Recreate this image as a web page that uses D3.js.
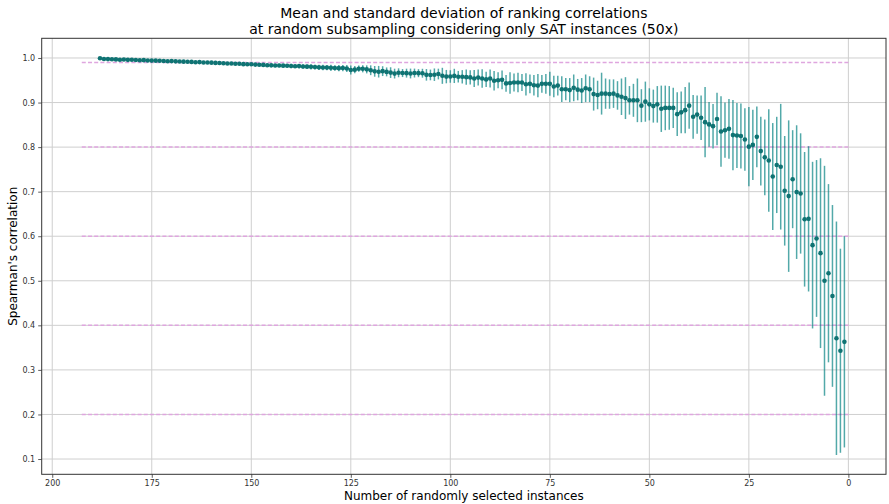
<!DOCTYPE html>
<html>
<head>
<meta charset="utf-8">
<script src="https://cdn.jsdelivr.net/npm/d3@7"></script>
<style>
  html, body { margin: 0; padding: 0; background: #fff; }
  svg { display: block; font-family: "DejaVu Sans", sans-serif; }
</style>
</head>
<body>
<svg id="chart" width="889" height="504"></svg>
<script>
// Number of randomly selected instances (left to right: 188 ... 1)
const sizes = [
  188,187,186,185,184,183,182,181,180,179,178,177,176,175,174,173,172,171,170,169,
  168,167,166,165,164,163,162,161,160,159,158,157,156,155,154,153,152,151,150,149,
  148,147,146,145,144,143,142,141,140,139,138,137,136,135,134,133,132,131,130,129,
  128,127,126,125,124,123,122,121,120,119,118,117,116,115,114,113,112,111,110,109,
  108,107,106,105,104,103,102,101,100,99,98,97,96,95,94,93,92,91,90,89,
  88,87,86,85,84,83,82,81,80,79,78,77,76,75,74,73,72,71,70,69,
  68,67,66,65,64,63,62,61,60,59,58,57,56,55,54,53,52,51,50,49,
  48,47,46,45,44,43,42,41,40,39,38,37,36,35,34,33,32,31,30,29,
  28,27,26,25,24,23,22,21,20,19,18,17,16,15,14,13,12,11,10,9,
  8,7,6,5,4,3,2,1
];
// Mean Spearman correlation
const means = [
  0.9995,0.9978,0.9975,0.9972,0.9968,0.9962,0.9966,0.9958,0.9960,0.9955,
  0.9950,0.9952,0.9945,0.9942,0.9940,0.9938,0.9933,0.9928,0.9930,0.9925,
  0.9922,0.9918,0.9916,0.9912,0.9905,0.9908,0.9900,0.9898,0.9895,0.9890,
  0.9888,0.9882,0.9878,0.9875,0.9870,0.9872,0.9862,0.9860,0.9858,0.9852,
  0.9848,0.9845,0.9838,0.9835,0.9830,0.9832,
  0.9828,0.9825,0.9822,0.9815,0.9818,0.9810,0.9806,0.9802,0.9796,0.9790,
  0.9786,0.9784,0.9780,0.9776,0.9772,0.9774,0.9765,0.9732,0.9738,0.9760,
  0.9758,0.9745,0.9725,0.9700,0.9692,0.9705,0.9688,0.9672,0.9650,0.9668,
  0.9662,0.9660,0.9652,0.9662,0.9660,0.9658,0.9622,0.9620,0.9625,0.9640,
  0.9600,0.9582,0.9585,0.9598,0.9580,0.9578,0.9570,
  0.9565,0.9540,0.9560,0.9540,0.9520,0.9540,0.9490,0.9500,0.9510,0.9430,
  0.9440,0.9450,0.9450,0.9450,0.9410,0.9420,0.9390,0.9380,0.9420,0.9420,
  0.9420,0.9360,0.9380,0.9300,0.9300,0.9280,0.9330,0.9290,0.9270,0.9320,0.9300,
  0.919,0.917,0.920,0.920,0.919,0.920,0.916,0.913,0.910,0.905,
  0.905,0.905,0.893,0.902,0.896,0.892,0.896,0.886,0.888,0.888,
  0.888,0.874,0.878,0.883,0.893,0.868,0.873,0.866,0.856,0.851,0.847,
  0.863,0.835,0.838,0.841,0.827,0.826,0.825,0.817,0.801,0.805,
  0.823,0.791,0.777,0.770,0.734,0.760,0.756,0.702,0.690,0.728,
  0.699,0.696,0.638,0.639,0.580,0.595,0.562,0.500,0.517,0.466,
  0.371,0.343,0.363
];
// Standard deviation
const stds = [
  0.0010,0.0015,0.0015,0.0016,0.0015,0.0017,0.0016,0.0018,0.0017,0.0018,
  0.0019,0.0018,0.0020,0.0019,0.0020,0.0021,0.0020,0.0022,0.0021,0.0022,
  0.0023,0.0022,0.0024,0.0023,0.0025,0.0024,0.0026,0.0025,0.0027,0.0026,
  0.0028,0.0027,0.0029,0.0030,0.0029,0.0031,0.0030,0.0032,0.0031,0.0033,
  0.0034,0.0033,0.0035,0.0036,0.0035,0.0038,
  0.004,0.004,0.005,0.004,0.005,0.005,0.005,0.006,0.005,0.006,
  0.006,0.006,0.007,0.006,0.007,0.007,0.008,0.010,0.008,0.007,
  0.008,0.009,0.011,0.012,0.013,0.011,0.010,0.012,0.011,0.010,
  0.009,0.010,0.011,0.010,0.009,0.010,0.013,0.012,0.014,0.012,
  0.018,0.015,0.014,0.016,0.013,0.015,0.017,
  0.016,0.019,0.018,0.021,0.017,0.020,0.022,0.018,0.021,0.019,
  0.024,0.020,0.022,0.019,0.025,0.021,0.023,0.026,0.020,0.022,
  0.027,0.024,0.022,0.029,0.025,0.027,0.030,0.024,0.028,0.031,0.029,
  0.037,0.032,0.047,0.034,0.033,0.032,0.032,0.041,0.047,0.032,
  0.037,0.049,0.037,0.045,0.036,0.037,0.041,0.052,0.050,0.049,
  0.045,0.049,0.047,0.052,0.052,0.049,0.043,0.050,0.079,0.050,0.050,
  0.059,0.079,0.062,0.067,0.079,0.073,0.073,0.070,0.089,0.079,
  0.068,0.077,0.085,0.115,0.120,0.108,0.141,0.123,0.170,0.110,
  0.150,0.135,0.151,0.163,0.187,0.176,0.213,0.258,0.200,0.204,
  0.262,0.229,0.237
];
// Reference levels (dashed lines) and their x extent
const refLevels = [0.99, 0.8, 0.6, 0.4, 0.2];
const refExtent = [0, 193];
// Tick values
const xTicks = [200, 175, 150, 125, 100, 75, 50, 25, 0];
const yTicks = [0.1, 0.2, 0.3, 0.4, 0.5, 0.6, 0.7, 0.8, 0.9, 1.0];
const titleLines = ["Mean and standard deviation of ranking correlations",
                    "at random subsampling considering only SAT instances (50x)"];
const xLabel = "Number of randomly selected instances";
const yLabel = "Spearman's correlation";

const data = sizes.map((s, i) => ({ n: s, m: means[i], sd: stds[i] }));

const W = 889, H = 504;
const margin = { left: 41.7, right: 3, top: 38.3, bottom: 29.7 };
const svg = d3.select("#chart");

const x = d3.scaleLinear().domain([202.65, -9.45]).range([margin.left, W - margin.right]);
const y = d3.scaleLinear().domain([0.0657, 1.0442]).range([H - margin.bottom, margin.top]);

// grid
const g = svg.append("g");
g.selectAll("line.vg").data(xTicks).join("line")
  .attr("x1", d => x(d)).attr("x2", d => x(d))
  .attr("y1", margin.top).attr("y2", H - margin.bottom)
  .attr("stroke", "#cfcfcf").attr("stroke-width", 1);
g.selectAll("line.hg").data(yTicks).join("line")
  .attr("y1", d => y(d)).attr("y2", d => y(d))
  .attr("x1", margin.left).attr("x2", W - margin.right)
  .attr("stroke", "#cfcfcf").attr("stroke-width", 1);

// reference dashed lines
svg.append("g").selectAll("line").data(refLevels).join("line")
  .attr("x1", x(refExtent[0])).attr("x2", x(refExtent[1]))
  .attr("y1", d => y(d)).attr("y2", d => y(d))
  .attr("stroke", "#dfa6df").attr("stroke-width", 1.5)
  .attr("stroke-dasharray", "4,2.2");

// error bars
svg.append("g").selectAll("line").data(data).join("line")
  .attr("x1", d => x(d.n)).attr("x2", d => x(d.n))
  .attr("y1", d => y(d.m - d.sd)).attr("y2", d => y(d.m + d.sd))
  .attr("stroke", "#008080").attr("stroke-opacity", 0.68).attr("stroke-width", 1.5);

// points
svg.append("g").selectAll("circle").data(data).join("circle")
  .attr("cx", d => x(d.n)).attr("cy", d => y(d.m)).attr("r", 2.3)
  .attr("fill", "#0f7373");

// axes
const xAxis = d3.axisBottom(x).tickValues(xTicks).tickFormat(d3.format("d")).tickSizeOuter(0).tickSize(3.5).tickPadding(3);
const yAxis = d3.axisLeft(y).tickValues(yTicks).tickFormat(d3.format(".1f")).tickSizeOuter(0).tickSize(3.5).tickPadding(3);
const gx = svg.append("g").attr("transform", `translate(0,${H - margin.bottom})`).call(xAxis);
const gy = svg.append("g").attr("transform", `translate(${margin.left},0)`).call(yAxis);
[gx, gy].forEach(a => {
  a.select(".domain").remove();
  a.selectAll("text").attr("font-family", "DejaVu Sans").attr("font-size", 8).attr("fill", "#333");
  a.selectAll("line").attr("stroke", "#333").attr("stroke-width", 0.8);
});

// frame
svg.append("rect")
  .attr("x", margin.left).attr("y", margin.top)
  .attr("width", W - margin.right - margin.left)
  .attr("height", H - margin.bottom - margin.top)
  .attr("fill", "none").attr("stroke", "#333").attr("stroke-width", 1);

// title
const cx = (margin.left + W - margin.right) / 2;
svg.append("g").selectAll("text").data(titleLines).join("text")
  .attr("x", cx).attr("y", (d, i) => 18 + i * 16)
  .attr("text-anchor", "middle").attr("font-size", 14).attr("fill", "#000")
  .text(d => d);

svg.append("text").attr("x", cx).attr("y", 500)
  .attr("text-anchor", "middle").attr("font-size", 12).attr("fill", "#000")
  .text(xLabel);
svg.append("text").attr("transform", `translate(17,${(margin.top + H - margin.bottom) / 2}) rotate(-90)`)
  .attr("text-anchor", "middle").attr("font-size", 12).attr("fill", "#000")
  .text(yLabel);
</script>
</body>
</html>
